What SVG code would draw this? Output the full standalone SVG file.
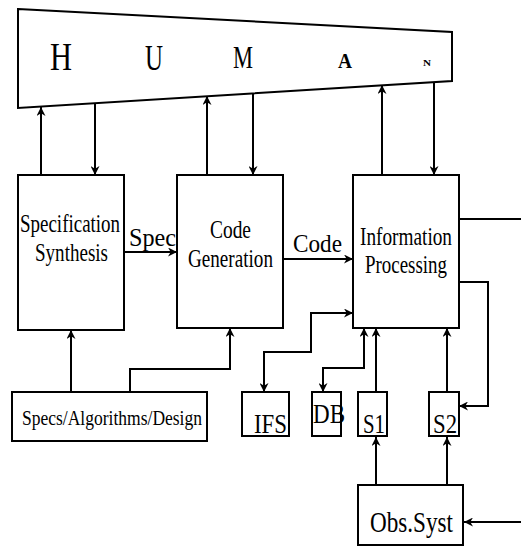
<svg xmlns="http://www.w3.org/2000/svg" width="521" height="546" viewBox="0 0 521 546">
<style>
.box{fill:#fff;stroke:#000;stroke-width:2}
.ln{fill:none;stroke:#000;stroke-width:2}
.a{marker-end:url(#ah)}
.b{marker-start:url(#ah);marker-end:url(#ah)}
text{font-family:"Liberation Serif","Times New Roman",serif;fill:#000}
.t{font-size:26px}
</style>
<defs>
<marker id="ah" viewBox="0 0 10 10" refX="10" refY="5" markerWidth="10" markerHeight="9" markerUnits="userSpaceOnUse" orient="auto-start-reverse">
<path d="M0,0 L10,5 L0,10 L3,5 z" fill="#000"/>
</marker>
</defs>
<rect width="521" height="546" fill="#fff"/>
<g id="connectors">
<path class="ln a" d="M41,175 L41,107"/>
<path class="ln a" d="M95,103 L95,175"/>
<path class="ln a" d="M207,175 L207,96"/>
<path class="ln a" d="M253,93 L253,175"/>
<path class="ln a" d="M382,175 L382,85"/>
<path class="ln a" d="M434,82 L434,175"/>
<path class="ln a" d="M124,252 L177,252"/>
<path class="ln a" d="M283,259 L353,259"/>
<path class="ln" d="M459,219 L521,219"/>
<path class="ln a" d="M459,282 L488,282 L488,406 L459,406"/>
<path class="ln b" d="M264,392 L264,352 L311,352 L311,313 L353,313"/>
<path class="ln b" d="M323,392 L323,368 L364,368 L364,328"/>
<path class="ln a" d="M376,392 L376,328"/>
<path class="ln a" d="M447,392 L447,328"/>
<path class="ln a" d="M376,485 L376,437"/>
<path class="ln a" d="M447,485 L447,437"/>
<path class="ln a" d="M521,522 L464,522"/>
<path class="ln a" d="M71,392 L71,330"/>
<path class="ln a" d="M130,392 L130,369 L230,369 L230,328"/>
</g>
<g id="human">
<polygon class="box" points="18,9 452,32 452,81 18,108"/>
<text x="50" y="70" font-size="40" textLength="22" lengthAdjust="spacingAndGlyphs">H</text>
<text x="145" y="70" font-size="36" textLength="18" lengthAdjust="spacingAndGlyphs">U</text>
<text x="233" y="68" font-size="31" textLength="20" lengthAdjust="spacingAndGlyphs">M</text>
<text x="338" y="68" font-size="22" font-weight="bold" textLength="14" lengthAdjust="spacingAndGlyphs">A</text>
<text x="423" y="66" font-size="9" font-weight="bold" textLength="8" lengthAdjust="spacingAndGlyphs">N</text>
</g>
<g id="spec-synthesis">
<rect class="box" x="18" y="175" width="106" height="155"/>
<text class="t" transform="translate(20,232) scale(0.73,1)">Specification</text>
<text class="t" x="35" y="261" textLength="73" lengthAdjust="spacingAndGlyphs">Synthesis</text>
</g>
<g id="code-generation">
<rect class="box" x="177" y="175" width="106" height="153"/>
<text class="t" x="210" y="238" textLength="41" lengthAdjust="spacingAndGlyphs">Code</text>
<text class="t" x="188" y="267" textLength="85" lengthAdjust="spacingAndGlyphs">Generation</text>
</g>
<g id="info-processing">
<rect class="box" x="353" y="175" width="106" height="153"/>
<text class="t" x="360" y="245" textLength="92" lengthAdjust="spacingAndGlyphs">Information</text>
<text class="t" x="365" y="273" textLength="82" lengthAdjust="spacingAndGlyphs">Processing</text>
</g>
<g id="labels">
<text class="t" x="129" y="246" textLength="47" lengthAdjust="spacingAndGlyphs">Spec</text>
<text class="t" x="293" y="252" textLength="49" lengthAdjust="spacingAndGlyphs">Code</text>
</g>
<g id="specs-design">
<rect class="box" x="12" y="392" width="195" height="49"/>
<text x="22" y="425" font-size="22" textLength="180" lengthAdjust="spacingAndGlyphs">Specs/Algorithms/Design</text>
</g>
<g id="ifs">
<rect class="box" x="242" y="392" width="47" height="44"/>
<text x="254" y="433" font-size="28" textLength="33" lengthAdjust="spacingAndGlyphs">IFS</text>
</g>
<g id="db">
<rect class="box" x="312" y="392" width="29" height="44"/>
<text x="313" y="423" font-size="27" textLength="32" lengthAdjust="spacingAndGlyphs">DB</text>
</g>
<g id="s1">
<rect class="box" x="358" y="392" width="29" height="44"/>
<text x="363" y="433" font-size="28" textLength="22" lengthAdjust="spacingAndGlyphs">S1</text>
</g>
<g id="s2">
<rect class="box" x="429" y="392" width="30" height="44"/>
<text x="433" y="433" font-size="28" textLength="24" lengthAdjust="spacingAndGlyphs">S2</text>
</g>
<g id="obs-syst">
<rect class="box" x="358" y="485" width="105" height="60"/>
<text x="370" y="532" font-size="30" textLength="83" lengthAdjust="spacingAndGlyphs">Obs.Syst</text>
</g>
</svg>
